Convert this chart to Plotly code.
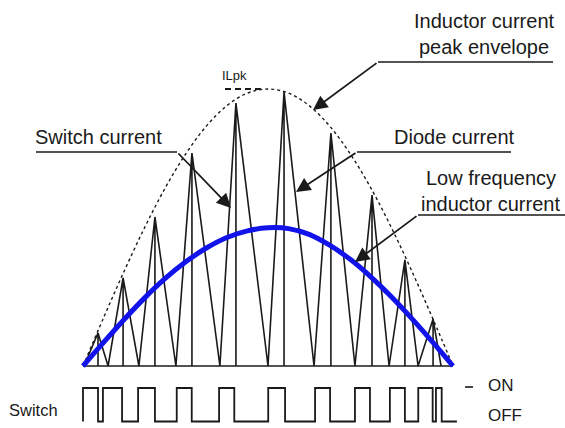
import plotly.graph_objects as go

# ---------------- data (phase in degrees of the line half-cycle, current relative to I_Lpk) -------------
cycle_start = [0.5, 12.2, 27.2, 45.2, 66.6, 90.0, 112.4, 132.3, 148.9, 163.0]
peak_phase = [7.3, 19.5, 35.0, 53.0, 74.4, 97.8, 120.6, 140.6, 156.6, 170.3]
peak_current = [0.119, 0.318, 0.538, 0.769, 0.949, 0.989, 0.841, 0.617, 0.383, 0.170]
cycle_end = [12.2, 27.2, 45.2, 66.6, 90.0, 112.4, 132.3, 148.9, 163.0, 174.2]

curve_phase = [0, 10, 20, 30, 40, 50, 60, 70, 80, 90, 100, 110, 120, 130, 140, 150, 160, 170, 180]
envelope_current = [0, 0.174, 0.342, 0.5, 0.643, 0.766, 0.866, 0.94, 0.985, 1.0,
                    0.985, 0.94, 0.866, 0.766, 0.643, 0.5, 0.342, 0.174, 0]
lowfreq_current = [0, 0.085, 0.168, 0.246, 0.316, 0.376, 0.426, 0.464, 0.488, 0.499,
                   0.496, 0.475, 0.436, 0.385, 0.322, 0.25, 0.171, 0.087, 0]

switch_edges = [0, 7.3, 9.7, 19.0, 26.8, 35.0, 45.6, 52.9, 66.2, 73.6, 90.1, 98.3,
                112.9, 120.2, 132.3, 139.6, 149.3, 156.6, 163.1, 170.1, 171.7, 174.5]
switch_stop = 181.9
baseline_phase = [0, 180]

# ---------------- helpers for placing layout items by pixel ----------------
W, H = 565, 428
X0PX, X180PX, Y0PX, YPKPX = 83, 453, 366, 89


def X(px):
    return (px - X0PX) * 180.0 / (X180PX - X0PX)


def Y(py):
    return (Y0PX - py) / (Y0PX - YPKPX)


INK = "#1a1a1a"
FONT = "Liberation Sans, Arial, sans-serif"

fig = go.Figure()

# sawtooth (switch + diode current)
sx, sy = [], []
for s, p, v, e in zip(cycle_start, peak_phase, peak_current, cycle_end):
    sx += [s, p, p, p, e]
    sy += [0, v, 0, v, 0]
fig.add_trace(go.Scatter(x=sx, y=sy, mode="lines", line=dict(color=INK, width=1.6),
                         hoverinfo="skip"))
fig.add_trace(go.Scatter(x=baseline_phase, y=[0, 0], mode="lines",
                         line=dict(color=INK, width=1.6), hoverinfo="skip"))

# peak envelope
fig.add_trace(go.Scatter(x=curve_phase, y=envelope_current, mode="lines",
                         line=dict(color=INK, width=1.4, dash="dot", shape="spline"),
                         hoverinfo="skip"))

# low frequency inductor current
fig.add_trace(go.Scatter(x=curve_phase, y=lowfreq_current, mode="lines",
                         line=dict(color="rgb(18,18,235)", width=5, shape="spline"),
                         hoverinfo="skip"))

# switch waveform
wx = [0] + switch_edges + [switch_stop]
wy = [0] + [1 - (i % 2) for i in range(len(switch_edges))]
wy = wy + [wy[-1]]
fig.add_trace(go.Scatter(x=wx, y=wy, mode="lines", yaxis="y2",
                         line=dict(color=INK, width=1.8, shape="hv"), hoverinfo="skip"))

shapes = []
annotations = []


def hline(x1, x2, y, dash="solid", width=1.6):
    shapes.append(dict(type="line", xref="x", yref="y", x0=X(x1), x1=X(x2), y0=Y(y), y1=Y(y),
                       line=dict(color=INK, width=width, dash=dash)))


def arrow(tipx, tipy, tailx, taily):
    annotations.append(dict(x=X(tipx), y=Y(tipy), ax=X(tailx), ay=Y(taily), xref="x", yref="y",
                            axref="x", ayref="y", text="", showarrow=True, arrowhead=2,
                            arrowsize=1.6, arrowwidth=1.8, arrowcolor=INK, standoff=0))


def label(text, x, y, size=20, xanchor="center", yanchor="middle"):
    annotations.append(dict(x=X(x), y=Y(y), xref="x", yref="y", text=text, showarrow=False,
                            xanchor=xanchor, yanchor=yanchor,
                            font=dict(family=FONT, size=size, color=INK)))


# peak envelope callout
label("Inductor current", 484, 21)
label("peak envelope", 484, 47)
hline(378, 553, 62)
arrow(313, 110, 378, 62)

# switch current callout
label("Switch current", 98, 137)
hline(36, 177, 152)
arrow(231, 208, 177, 152)

# diode current callout
label("Diode current", 454, 137)
hline(357, 511, 152)
arrow(296, 192, 357, 152)

# low frequency callout
label("Low frequency", 491, 178)
label("inductor current", 490, 204)
hline(418, 565, 215)
arrow(355, 262, 418, 215)

# I_Lpk marker
label("ILpk", 234, 75, size=13)
hline(225, 262, 89, dash="6px,4px", width=1.8)

# switch labels
label("Switch", 33, 410, size=16.5)
label("ON", 486, 385, size=17, xanchor="left")
label("OFF", 486, 427, size=17, xanchor="left", yanchor="bottom")
hline(465, 473, 387)

fig.update_layout(
    width=W, height=H, margin=dict(l=0, r=0, t=0, b=0),
    paper_bgcolor="white", plot_bgcolor="white", showlegend=False,
    xaxis=dict(range=[X(0), X(W)], visible=False, fixedrange=True),
    yaxis=dict(range=[Y(H), Y(0)], visible=False, fixedrange=True),
    yaxis2=dict(range=[-0.194, 12.582], overlaying="y", visible=False, fixedrange=True),
    shapes=shapes, annotations=annotations,
)

fig.write_html("out.html", config={"displayModeBar": False})
